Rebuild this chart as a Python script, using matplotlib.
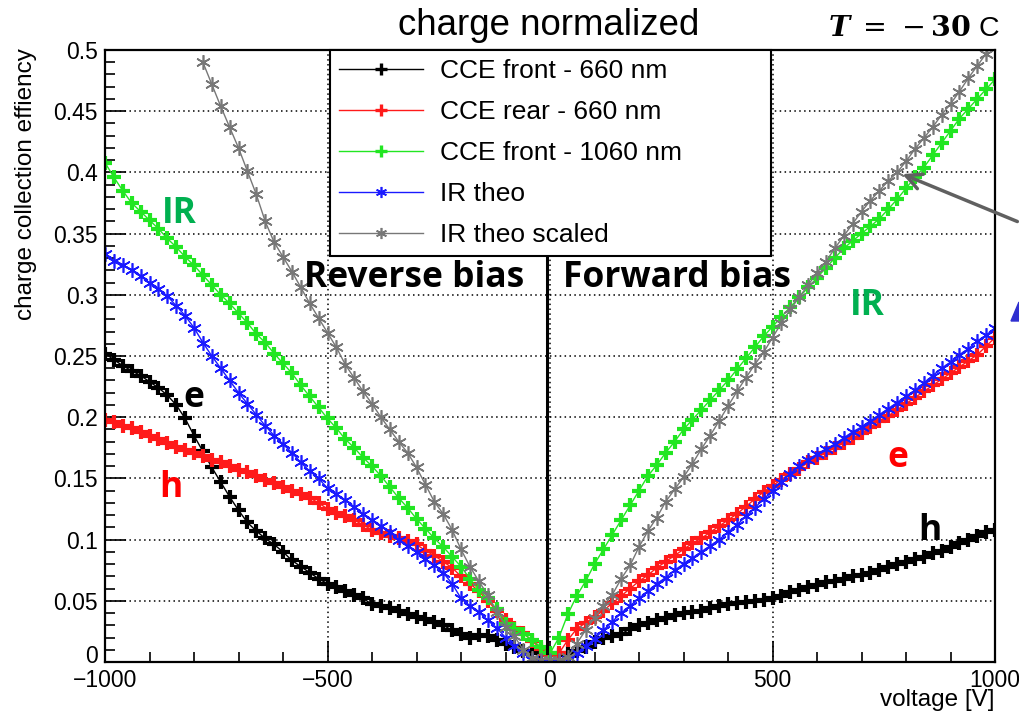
import numpy as np
import matplotlib
matplotlib.use("Agg")
import matplotlib.pyplot as plt
from matplotlib.ticker import MultipleLocator, FuncFormatter
from matplotlib.patches import Polygon

plt.rcParams['font.family'] = ['Liberation Sans', 'DejaVu Sans']
plt.rcParams['mathtext.fontset'] = 'dejavuserif'

# Bias voltage grid [V]
voltage = np.arange(-1000, 1001, 20)
voltage_scaled = np.arange(-780, 1001, 20)

cce_front_660 = [
    0.252, 0.247, 0.242, 0.238, 0.234, 0.229, 0.224, 0.218, 0.210, 0.199,
    0.185, 0.172, 0.159, 0.147, 0.135, 0.124, 0.114, 0.107, 0.101, 0.096,
    0.090, 0.083, 0.078, 0.073, 0.068, 0.064, 0.061, 0.058, 0.055, 0.052,
    0.047, 0.046, 0.044, 0.042, 0.039, 0.037, 0.035, 0.033, 0.030, 0.026,
    0.023, 0.020, 0.022, 0.021, 0.018, 0.015, 0.012, 0.009, 0.008, 0.007,
    0.006,
    0.006, 0.007, 0.009, 0.012, 0.016, 0.020, 0.021, 0.023, 0.027, 0.030,
    0.032, 0.034, 0.036, 0.038, 0.040, 0.041, 0.042, 0.044, 0.046, 0.047,
    0.048, 0.049, 0.050, 0.051, 0.052, 0.054, 0.057, 0.059, 0.061, 0.063,
    0.065, 0.066, 0.068, 0.070, 0.071, 0.073, 0.075, 0.078, 0.080, 0.082,
    0.084, 0.086, 0.089, 0.091, 0.094, 0.097, 0.100, 0.103, 0.106, 0.108,
]

cce_rear_660 = [
    0.198, 0.196, 0.193, 0.191, 0.188, 0.185, 0.182, 0.179, 0.176, 0.173,
    0.171, 0.168, 0.165, 0.163, 0.160, 0.157, 0.155, 0.152, 0.149, 0.146,
    0.143, 0.140, 0.137, 0.134, 0.130, 0.125, 0.122, 0.119, 0.116, 0.112,
    0.108, 0.105, 0.103, 0.101, 0.099, 0.096, 0.091, 0.087, 0.082, 0.077,
    0.070, 0.064, 0.058, 0.050, 0.042, 0.034, 0.028, 0.024, 0.017, 0.011,
    0.006,
    0.007, 0.018, 0.027, 0.032, 0.037, 0.042, 0.048, 0.054, 0.060, 0.066,
    0.071, 0.077, 0.082, 0.087, 0.092, 0.097, 0.101, 0.106, 0.111, 0.116,
    0.121, 0.127, 0.133, 0.139, 0.144, 0.149, 0.154, 0.158, 0.163, 0.167,
    0.171, 0.175, 0.179, 0.183, 0.187, 0.192, 0.197, 0.201, 0.206, 0.211,
    0.216, 0.221, 0.226, 0.231, 0.236, 0.241, 0.246, 0.251, 0.258, 0.265,
]

cce_front_1060 = [
    0.408, 0.396, 0.385, 0.375, 0.368, 0.361, 0.354, 0.346, 0.339, 0.331,
    0.324, 0.316, 0.308, 0.300, 0.293, 0.285, 0.277, 0.268, 0.261, 0.252,
    0.244, 0.236, 0.226, 0.217, 0.208, 0.199, 0.191, 0.182, 0.175, 0.167,
    0.160, 0.152, 0.143, 0.134, 0.126, 0.117, 0.109, 0.101, 0.094, 0.086,
    0.078, 0.068, 0.059, 0.052, 0.043, 0.031, 0.027, 0.023, 0.018, 0.012,
    0.007,
    0.020, 0.039, 0.054, 0.066, 0.080, 0.092, 0.104, 0.116, 0.128, 0.140,
    0.152, 0.161, 0.171, 0.180, 0.190, 0.198, 0.206, 0.214, 0.222, 0.230,
    0.239, 0.248, 0.257, 0.266, 0.274, 0.282, 0.290, 0.298, 0.306, 0.314,
    0.322, 0.330, 0.338, 0.344, 0.350, 0.356, 0.362, 0.370, 0.378, 0.387,
    0.396, 0.404, 0.414, 0.424, 0.434, 0.444, 0.452, 0.460, 0.468, 0.476,
]

ir_theo = [
    0.333, 0.328, 0.324, 0.320, 0.315, 0.310, 0.305, 0.299, 0.291, 0.283,
    0.273, 0.261, 0.250, 0.240, 0.230, 0.220, 0.211, 0.202, 0.193, 0.185,
    0.178, 0.171, 0.163, 0.156, 0.150, 0.142, 0.137, 0.132, 0.127, 0.121,
    0.116, 0.111, 0.106, 0.100, 0.095, 0.090, 0.084, 0.079, 0.073, 0.064,
    0.052, 0.046, 0.041, 0.034, 0.028, 0.020, 0.013, 0.007, 0.002, 0.001,
    0.001,
    0.001, 0.002, 0.007, 0.013, 0.019, 0.026, 0.033, 0.040, 0.046, 0.052,
    0.058, 0.064, 0.069, 0.075, 0.080, 0.085, 0.090, 0.095, 0.100, 0.106,
    0.112, 0.119, 0.126, 0.133, 0.140, 0.147, 0.154, 0.160, 0.165, 0.170,
    0.174, 0.178, 0.183, 0.188, 0.192, 0.197, 0.202, 0.207, 0.212, 0.217,
    0.222, 0.228, 0.234, 0.240, 0.245, 0.251, 0.256, 0.262, 0.267, 0.273,
]

ir_theo_scaled = [
    0.490, 0.472, 0.454, 0.437, 0.420, 0.401, 0.382, 0.360, 0.343, 0.331,
    0.319, 0.306, 0.293, 0.281, 0.269, 0.257, 0.243, 0.232, 0.221, 0.211,
    0.200, 0.190, 0.180, 0.171, 0.159, 0.145, 0.131, 0.121, 0.108, 0.092,
    0.078, 0.066, 0.055, 0.041, 0.029, 0.021, 0.010, 0.003, 0.002, 0.002,
    0.002, 0.004, 0.015, 0.026, 0.036, 0.046, 0.055, 0.068, 0.079, 0.094,
    0.107, 0.118, 0.131, 0.141, 0.151, 0.162, 0.174, 0.185, 0.197, 0.209,
    0.221, 0.232, 0.243, 0.253, 0.265, 0.277, 0.288, 0.298, 0.308, 0.318,
    0.327, 0.338, 0.348, 0.358, 0.368, 0.377, 0.385, 0.393, 0.400, 0.409,
    0.419, 0.428, 0.437, 0.447, 0.456, 0.466, 0.477, 0.487, 0.497, 0.507,
]

labels = ["CCE front - 660 nm", "CCE rear - 660 nm", "CCE front - 1060 nm",
          "IR theo", "IR theo scaled"]
colors = ["black", "#ff1a1a", "#22e622", "#1a1aff", "#777777"]

W, H = 1019, 715
fig = plt.figure(figsize=(W / 100, H / 100), dpi=100)
ax = fig.add_axes([105 / W, 53 / H, 890 / W, 612 / H])

plus = dict(marker='+', ms=9.5, mew=3.0, lw=1.0)
star = dict(marker=(6, 2, 0), ms=10.5, mew=1.2, lw=1.0)

lines = []
lines += ax.plot(voltage, cce_front_660, color=colors[0], label=labels[0], **plus)
lines += ax.plot(voltage, cce_rear_660, color=colors[1], label=labels[1], **plus)
lines += ax.plot(voltage, cce_front_1060, color=colors[2], label=labels[2], **plus)
lines += ax.plot(voltage, ir_theo, color=colors[3], label=labels[3], **star)
lines += ax.plot(voltage_scaled, ir_theo_scaled, color=colors[4], label=labels[4], **star)

ax.set_xlim(-1000, 1000)
ax.set_ylim(0, 0.5)
ax.xaxis.set_major_locator(MultipleLocator(500))
ax.xaxis.set_minor_locator(MultipleLocator(100))
ax.yaxis.set_major_locator(MultipleLocator(0.05))
ax.yaxis.set_minor_locator(MultipleLocator(0.01))
# the "0" of the y axis is drawn separately, a little higher
ax.yaxis.set_major_formatter(FuncFormatter(lambda v, _: "" if abs(v) < 1e-9 else f"{v:g}"))
ax.tick_params(which='both', direction='in', top=False, right=False,
               labelsize=16.5, width=1.2, pad=5)
ax.tick_params(which='major', length=15)
ax.tick_params(which='minor', length=7.5)
ax.grid(True, which='major', ls=(0, (1, 2.2)), color='black', lw=1.1)
for s in ax.spines.values():
    s.set_linewidth(1.6)

ax.annotate("0", xy=(0, 0), xycoords='axes fraction', xytext=(-5, 4),
            textcoords='offset points', ha='right', va='center', fontsize=16.5)

# divider between reverse and forward bias
ax.plot([-7, -7], [0.007, 0.335], color='black', lw=2.2, zorder=4)

leg = ax.legend(handles=lines, loc='upper left',
                bbox_to_anchor=(0.253, 1.0, 0.495, 0.0),
                mode='expand', fontsize=19, frameon=True, fancybox=False,
                edgecolor='black', framealpha=1, borderaxespad=0,
                handlelength=3.15, handletextpad=0.65, labelspacing=0.64,
                borderpad=0.35)
leg.get_frame().set_linewidth(1.5)
leg.set_zorder(6)
for h in leg.legend_handles:
    h.set_markersize(8)
    if h.get_marker() == '+':
        h.set_markeredgewidth(2.4)

bold = dict(family=['Open Sans', 'DejaVu Sans'], weight='bold', fontsize=25.5)
ax.text(-552, 0.306, "Reverse bias", color='black', ha='left', va='baseline', **bold)
ax.text(29, 0.306, "Forward bias", color='black', ha='left', va='baseline', **bold)
ax.text(-833, 0.359, "IR", color='#00b050', ha='center', va='baseline', **bold)
ax.text(714, 0.2835, "IR", color='#00b050', ha='center', va='baseline', **bold)
ax.text(-800, 0.208, "e", color='black', ha='center', va='baseline', **bold)
ax.text(-851, 0.135, "h", color='#ff0000', ha='center', va='baseline', **bold)
ax.text(782, 0.159, "e", color='#ff0000', ha='center', va='baseline', **bold)
ax.text(854, 0.100, "h", color='black', ha='center', va='baseline', **bold)

ax.annotate('', xy=(786, 0.3995), xytext=(1056, 0.359),
            arrowprops=dict(arrowstyle='->', lw=2.5, color='#606060',
                            mutation_scale=28),
            annotation_clip=False)

fig.patches.append(Polygon([(1011 / W, 1 - 321 / H), (1019 / W, 1 - 302 / H),
                            (1019 / W, 1 - 321 / H)], closed=True,
                           transform=fig.transFigure, color='#3030d0'))

fig.text(549 / W, 1 - 35 / H, "charge normalized", ha='center', va='baseline',
         fontsize=26.4)
fig.text(828 / W, 1 - 36 / H, r"$\boldsymbol{T}\;=\,-\mathbf{30}$ C", ha='left',
         va='baseline', fontsize=20.5)
fig.text(26 / W, 1 - 48 / H, "charge collection effiency", rotation=90,
         ha='center', va='top', fontsize=17.5)
fig.text(994 / W, 1 - 700 / H, "voltage [V]", ha='right', va='center',
         fontsize=17.5)

fig.savefig("out.png", dpi=100, facecolor='white')
